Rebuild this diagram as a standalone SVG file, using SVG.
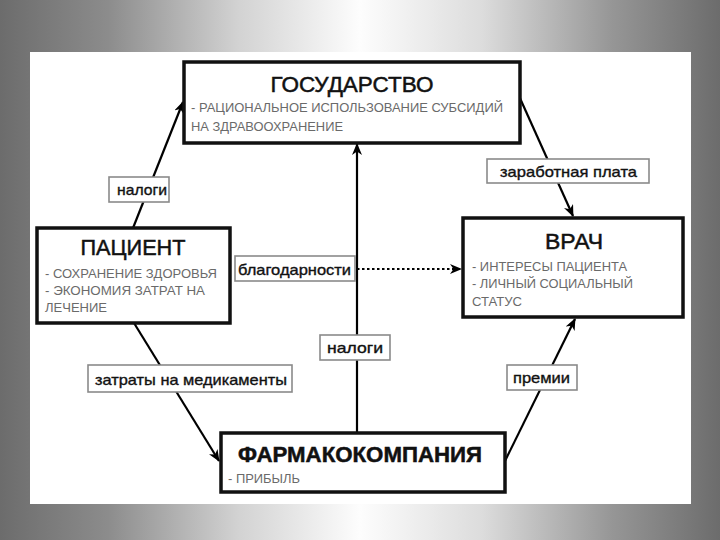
<svg xmlns="http://www.w3.org/2000/svg" width="720" height="540" viewBox="0 0 720 540">
<defs>
<linearGradient id="bg" x1="0" y1="0" x2="1" y2="0">
<stop offset="0" stop-color="#6c6c6c"/>
<stop offset="0.15" stop-color="#8c8c8c"/>
<stop offset="0.33" stop-color="#d2d2d2"/>
<stop offset="0.5" stop-color="#fdfdfd"/>
<stop offset="0.67" stop-color="#dcdcdc"/>
<stop offset="0.85" stop-color="#969696"/>
<stop offset="1" stop-color="#6c6c6c"/>
</linearGradient>
<marker id="arr" viewBox="0 0 12 10" refX="11" refY="5" markerWidth="12" markerHeight="10" markerUnits="userSpaceOnUse" orient="auto">
<path d="M0,0 L12,5 L0,10 L3.5,5 z" fill="#000"/>
</marker>
</defs>
<style>
.node{fill:#fff;stroke:#111;stroke-width:3.5}
.title{font-family:"Liberation Sans",Arial,sans-serif;font-size:22px;fill:#111;stroke:#111;stroke-width:0.5;text-anchor:middle}
.sub{font-family:"Liberation Sans",Arial,sans-serif;font-size:12.5px;fill:#6a6a6a}
.lbox{fill:#fff;stroke:#8a8a8a;stroke-width:1.6}
.ltxt{font-family:"Liberation Sans",Arial,sans-serif;font-size:15px;fill:#111;stroke:#111;stroke-width:0.35}
.conn{stroke:#000;stroke-width:2.2;fill:none}
</style>
<rect x="0" y="0" width="720" height="540" fill="url(#bg)"/>
<rect x="30" y="52" width="661" height="452" fill="#fff"/>
<g id="connectors">
<line class="conn" x1="133" y1="228" x2="183" y2="102" marker-end="url(#arr)"/>
<line class="conn" x1="519" y1="96" x2="573" y2="216" marker-end="url(#arr)"/>
<line class="conn" x1="357" y1="269" x2="461" y2="269" stroke-dasharray="2.5,2.5" stroke-width="2.6" marker-end="url(#arr)"/>
<line class="conn" x1="357" y1="433" x2="357" y2="144" marker-end="url(#arr)"/>
<line class="conn" x1="134" y1="323" x2="219" y2="461" marker-end="url(#arr)"/>
<line class="conn" x1="504" y1="463" x2="575" y2="319" marker-end="url(#arr)"/>
<g id="label-nalogi1"><rect class="lbox" x="109" y="177" width="60" height="25"/><text class="ltxt" x="117" y="195" textLength="50" lengthAdjust="spacingAndGlyphs">налоги</text></g>
<g id="label-zarplata"><rect class="lbox" x="487" y="159" width="162" height="24"/><text class="ltxt" x="500" y="177" textLength="137" lengthAdjust="spacingAndGlyphs">заработная плата</text></g>
<g id="label-blagodarnosti"><rect class="lbox" x="235" y="256" width="120" height="25"/><text class="ltxt" x="238" y="275" textLength="113" lengthAdjust="spacingAndGlyphs">благодарности</text></g>
<g id="label-nalogi2"><rect class="lbox" x="320" y="335" width="70" height="25"/><text class="ltxt" x="327" y="353" textLength="56" lengthAdjust="spacingAndGlyphs">налоги</text></g>
<g id="label-zatraty"><rect class="lbox" x="88" y="365" width="204" height="27"/><text class="ltxt" x="95" y="385" textLength="192" lengthAdjust="spacingAndGlyphs">затраты на медикаменты</text></g>
<g id="label-premii"><rect class="lbox" x="507" y="365" width="70" height="25"/><text class="ltxt" x="513" y="383" textLength="57" lengthAdjust="spacingAndGlyphs">премии</text></g>
</g>
<g id="node-gosudarstvo">
<rect class="node" x="184" y="62" width="336" height="81"/>
<text class="title" x="352" y="92" textLength="163" lengthAdjust="spacingAndGlyphs">ГОСУДАРСТВО</text>
<text class="sub" x="191" y="112" textLength="312" lengthAdjust="spacingAndGlyphs">- РАЦИОНАЛЬНОЕ ИСПОЛЬЗОВАНИЕ СУБСИДИЙ</text>
<text class="sub" x="191" y="131" textLength="152" lengthAdjust="spacingAndGlyphs">НА ЗДРАВООХРАНЕНИЕ</text>
</g>
<g id="node-pacient">
<rect class="node" x="37" y="228" width="193" height="95"/>
<text class="title" x="133" y="255" textLength="105" lengthAdjust="spacingAndGlyphs">ПАЦИЕНТ</text>
<text class="sub" x="45" y="278" textLength="172" lengthAdjust="spacingAndGlyphs">- СОХРАНЕНИЕ ЗДОРОВЬЯ</text>
<text class="sub" x="45" y="295" textLength="160" lengthAdjust="spacingAndGlyphs">- ЭКОНОМИЯ ЗАТРАТ НА</text>
<text class="sub" x="45" y="312" textLength="62" lengthAdjust="spacingAndGlyphs">ЛЕЧЕНИЕ</text>
</g>
<g id="node-vrach">
<rect class="node" x="463" y="218" width="220" height="99"/>
<text class="title" x="574" y="249" textLength="58" lengthAdjust="spacingAndGlyphs">ВРАЧ</text>
<text class="sub" x="472" y="271" textLength="155" lengthAdjust="spacingAndGlyphs">- ИНТЕРЕСЫ ПАЦИЕНТА</text>
<text class="sub" x="472" y="288" textLength="161" lengthAdjust="spacingAndGlyphs">- ЛИЧНЫЙ СОЦИАЛЬНЫЙ</text>
<text class="sub" x="472" y="306" textLength="50" lengthAdjust="spacingAndGlyphs">СТАТУС</text>
</g>
<g id="node-farma">
<rect class="node" x="221" y="433" width="284" height="59"/>
<text class="title" x="360" y="462" font-weight="bold" textLength="244" lengthAdjust="spacingAndGlyphs">ФАРМАКОКОМПАНИЯ</text>
<text class="sub" x="228" y="483" textLength="72" lengthAdjust="spacingAndGlyphs">- ПРИБЫЛЬ</text>
</g>
</svg>
